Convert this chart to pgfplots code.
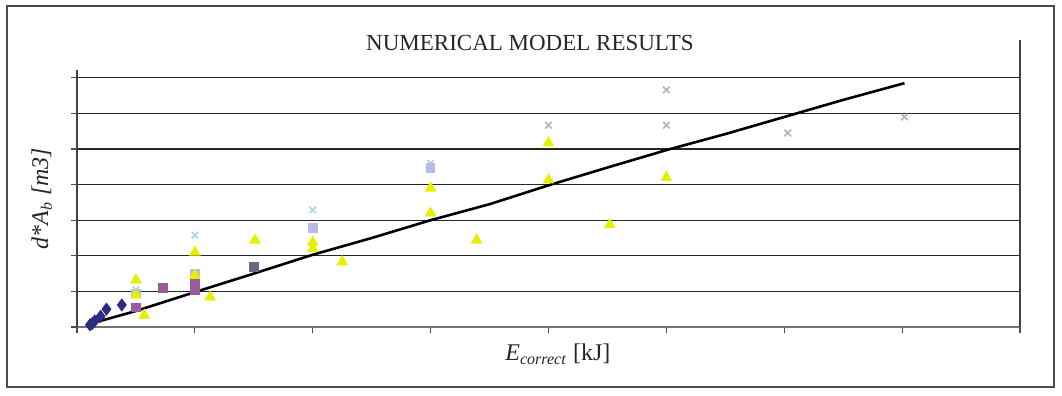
\documentclass[border=0pt]{standalone}
\usepackage{fontspec}
\setmainfont{Liberation Serif}
\usepackage{pgfplots}
\pgfplotsset{compat=1.18}
\definecolor{navy}{HTML}{2C2C80}
\definecolor{mauve}{HTML}{9A5A9E}
\definecolor{ylw}{HTML}{E4F000}
\definecolor{lav}{HTML}{B8BCE4}
\definecolor{lcyan}{HTML}{A8D4E8}
\definecolor{lgray}{HTML}{B4B4B8}
\definecolor{gpurp}{HTML}{6E6484}
\begin{document}
\begin{tikzpicture}[x=1pt,y=1pt]
\path[use as bounding box] (0,0) rectangle (531,198);
\draw[black!70, line width=0.8pt] (3.5,4.5) rectangle (527,195);
\node[font=\fontsize{11.5}{13}\selectfont, text=black!85] at (265,176.5) {NUMERICAL MODEL RESULTS};
\begin{axis}[
  at={(38.5pt,34.5pt)}, anchor=south west,
  scale only axis, width=471.5pt, height=128.5pt,
  xmin=0, xmax=8, ymin=0, ymax=7.22,
  axis x line*=bottom, axis y line*=left,
  xtick={0,...,8}, ytick={0,...,7},
  xticklabels={}, yticklabels={},
  tick align=outside, major tick length=3pt,
  tick style={black!70, line width=0.6pt},
  ymajorgrids, grid style={black!85, line width=0.6pt},
  x axis line style={black!55, line width=1.2pt},
  y axis line style={black!75, line width=0.6pt},
  clip=false,
  xlabel={\textit{E}\textsubscript{\textit{correct}} [kJ]},
  ylabel={\textit{d*A\textsubscript{b} [m3]}},
  label style={font=\fontsize{12}{14}\selectfont, text=black!85},
  xlabel style={at={(axis description cs:0.51,0)}, anchor=north, yshift=-5pt},
  ylabel style={at={(axis description cs:0,0.5)}, anchor=south, yshift=9pt},
]
\draw[black!75, line width=0.6pt] (axis cs:8,0) -- (axis cs:8,8.06);
% line
\addplot[black, line width=1.3pt] coordinates {
(0.10,0.08) (0.5,0.45) (1.0,0.98) (1.5,1.5) (2.0,2.03) (2.5,2.5) (3.0,3.0)
(3.5,3.45) (4.0,3.98) (4.5,4.48) (5.0,4.97) (5.5,5.42) (6.0,5.9) (6.5,6.38) (7.02,6.85)};
% light gray x
\addplot[only marks, mark=x, mark size=2.3pt, lgray, line width=0.8pt] coordinates {
(4.0,5.67) (5.0,6.66) (5.0,5.67) (6.03,5.45) (7.02,5.9)};
% light cyan x
\addplot[only marks, mark=x, mark size=2.3pt, lcyan, line width=0.8pt] coordinates {
(0.5,1.05) (1.0,2.58) (2.0,3.29) (3.0,4.6)};
% lavender squares
\addplot[only marks, mark=square*, mark size=2.1pt, lav, mark options={draw=lav}] coordinates {
(0.5,0.95) (1.0,1.5) (2.0,2.78) (3.0,4.47)};
% mauve squares
\addplot[only marks, mark=square*, mark size=2.2pt, mauve, mark options={draw=mauve}] coordinates {
(0.5,0.55) (0.73,1.1) (1.0,1.05) (1.0,1.25)};
\addplot[only marks, mark=square*, mark size=2.2pt, gpurp, mark options={draw=gpurp}] coordinates {
(1.5,1.68)};
% yellow triangles
\addplot[only marks, mark=triangle*, mark size=3pt, ylw, mark options={draw=ylw}] coordinates {
(0.5,1.32) (0.5,0.9) (0.57,0.33) (1.0,2.1) (1.0,1.45) (1.13,0.84) (1.51,2.44)
(2.0,2.38) (2.0,2.2) (2.25,1.83) (3.0,3.9) (3.0,3.2) (3.39,2.44)
(4.0,5.17) (4.0,4.13) (4.52,2.87) (5.0,4.2)};
% navy diamonds
\addplot[only marks, mark=diamond*, mark size=3pt, navy, mark options={draw=navy}] coordinates {
(0.11,0.06) (0.15,0.17) (0.2,0.3) (0.25,0.5) (0.38,0.62) (0.13,0.1)};
\end{axis}
\end{tikzpicture}
\end{document}
